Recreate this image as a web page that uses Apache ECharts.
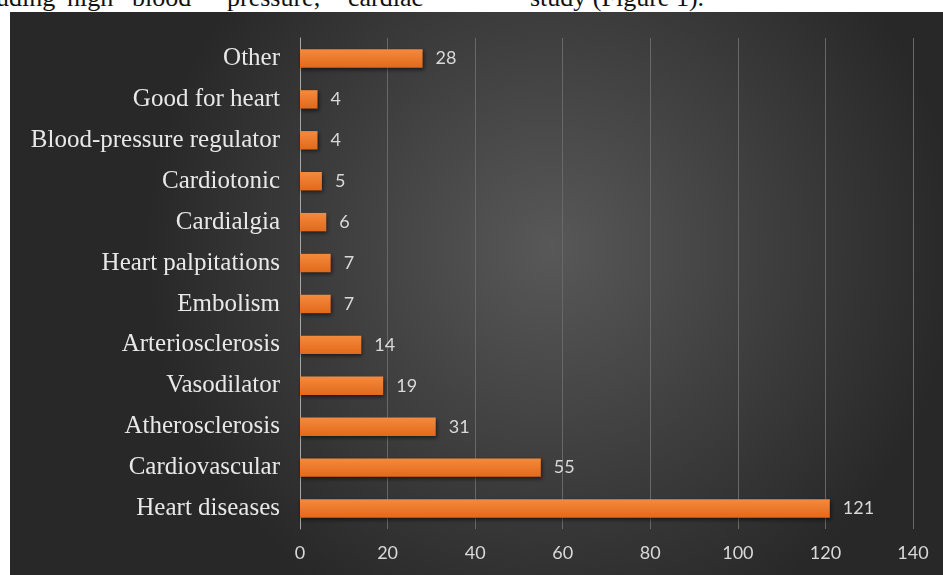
<!DOCTYPE html>
<html>
<head>
<meta charset="utf-8">
<script src="https://cdn.jsdelivr.net/npm/echarts@6/dist/echarts.min.js"></script>
<style>
  html, body { margin: 0; padding: 0; background: #fff; }
  #page { position: relative; width: 943px; height: 575px; overflow: hidden; }
  .cut {
    position: absolute; top: -15px; line-height: 26px;
    font-family: 'Liberation Serif', serif; font-size: 26px; color: #111;
    white-space: nowrap;
  }
  #chart { position: absolute; left: 10px; top: 12px; width: 933px; height: 563px; }
</style>
</head>
<body>
<div id="page">
  <span class="cut" style="left:-4px;">uding</span>
  <span class="cut" style="left:67px;">high</span>
  <span class="cut" style="left:132px;">blood</span>
  <span class="cut" style="left:227px;">pressure,</span>
  <span class="cut" style="left:348px;">cardiac</span>
  <span class="cut" style="left:530px;">study (Figure 1).</span>
  <div id="chart"></div>
</div>
<script>
// bottom-to-top order, as the y axis draws it
const categories = [
  'Heart diseases', 'Cardiovascular', 'Atherosclerosis', 'Vasodilator',
  'Arteriosclerosis', 'Embolism', 'Heart palpitations', 'Cardialgia',
  'Cardiotonic', 'Blood-pressure regulator', 'Good for heart', 'Other'
];
const counts = [121, 55, 31, 19, 14, 7, 7, 6, 5, 4, 4, 28];
const xTicks = [0, 20, 40, 60, 80, 100, 120, 140];

const chartDom = document.getElementById('chart');
const myChart = echarts.init(chartDom);
const option = {
  animation: false,
  backgroundColor: {
    type: 'radial', x: 0.58, y: 0.42, r: 0.72,
    colorStops: [
      { offset: 0, color: '#585858' },
      { offset: 1, color: '#282828' }
    ]
  },
  grid: { left: 290, right: 30, top: 26, bottom: 46 },
  xAxis: {
    type: 'value',
    min: xTicks[0],
    max: xTicks[xTicks.length - 1],
    interval: 20,
    axisLine: { show: false },
    axisTick: { show: false },
    axisLabel: { color: '#d9d9d9', fontFamily: 'Lato', fontSize: 18, margin: 15 },
    splitLine: { lineStyle: { color: '#686868', width: 1 } }
  },
  yAxis: {
    type: 'category',
    data: categories,
    axisLine: { show: true, lineStyle: { color: '#a6a6a6', width: 1 } },
    axisTick: { show: false },
    axisLabel: {
      color: '#e8e8e8', fontFamily: 'Liberation Serif', fontSize: 25, margin: 20
    }
  },
  series: [
    {
      type: 'bar',
      data: counts,
      barWidth: '45%',
      itemStyle: {
        color: {
          type: 'linear', x: 0, y: 0, x2: 0, y2: 1,
          colorStops: [
            { offset: 0, color: '#f58a3c' },
            { offset: 1, color: '#e2691b' }
          ]
        },
        shadowColor: 'rgba(0,0,0,0.55)',
        shadowBlur: 4,
        shadowOffsetX: 1,
        shadowOffsetY: 2
      },
      label: {
        show: true,
        position: 'right',
        distance: 13,
        color: '#d9d9d9',
        fontFamily: 'Lato',
        fontSize: 18
      }
    }
  ]
};

option && myChart.setOption(option);
</script>
</body>
</html>
